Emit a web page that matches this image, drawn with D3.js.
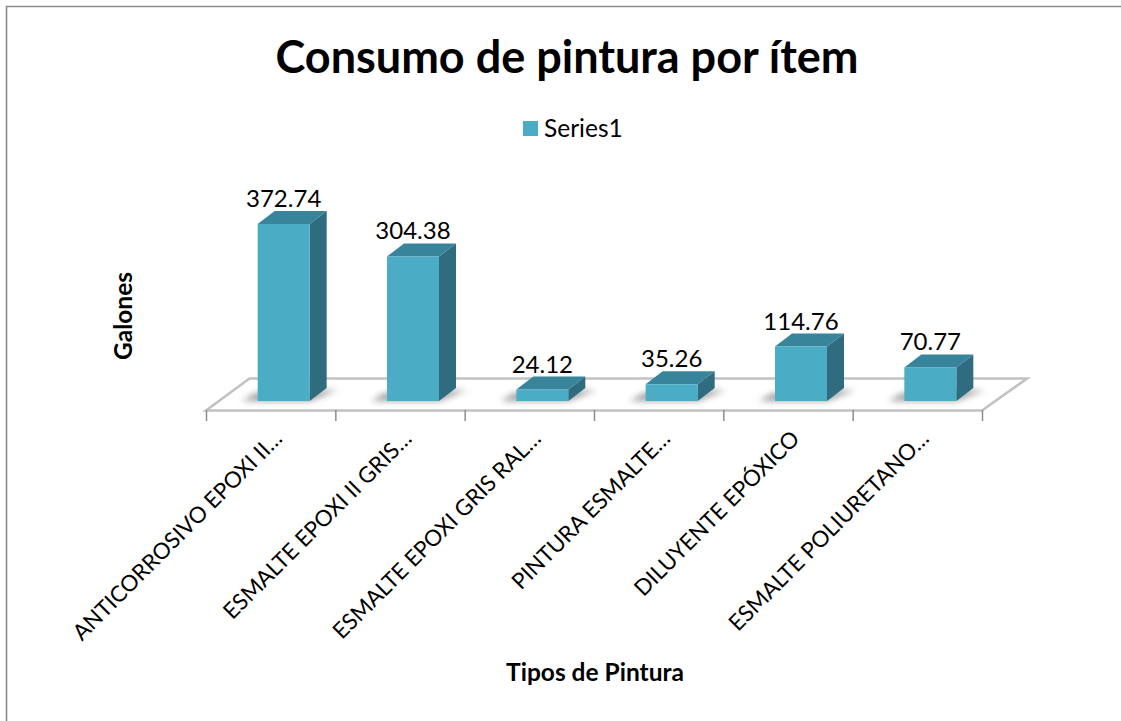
<!DOCTYPE html>
<html>
	<head>
		<title>Consumo de pintura</title>
		<script src="https://d3js.org/d3.v7.min.js"></script>
		<style>
			html, body { margin: 0; padding: 0; background: #fff; }
			svg { display: block; }
			text { font-family: Lato, "Open Sans", sans-serif; fill: #000; }
		</style>
	</head>
	<body>
		<svg width="1121" height="721"></svg>

		<script type="text/javascript">
			var categories = [
				"ANTICORROSIVO EPOXI II…",
				"ESMALTE EPOXI II GRIS…",
				"ESMALTE EPOXI GRIS RAL…",
				"PINTURA ESMALTE…",
				"DILUYENTE EPÓXICO",
				"ESMALTE POLIURETANO…"
			];
			var values = [372.74, 304.38, 24.12, 35.26, 114.76, 70.77];
			var labels = ["372.74", "304.38", "24.12", "35.26", "114.76", "70.77"];
			var seriesName = "Series1";

			var frontColor = "#4bacc6", sideColor = "#2f6c80", topColor = "#37849b";
			var depthX = 17, depthY = 13;

			var svg = d3.select("svg");

			// frame of the chart, only top and left show in the picture
			svg.append("path")
				.attr("d", "M6.5,721V6.5H1121")
				.attr("fill", "none")
				.attr("stroke", "#8c8c8c")
				.attr("stroke-width", 1.6);

			var x = d3.scaleBand().domain(d3.range(categories.length)).range([206, 982]).padding(0);
			var y = d3.scaleLinear().domain([0, 372.74]).range([401, 224]);
			var barW = 52;
			var barX = function(i) { return x(i) + x.bandwidth() / 2 + 13 - barW / 2; };

			var defs = svg.append("defs");
			defs.append("filter").attr("id", "blur")
				.attr("x", "-30%").attr("y", "-60%").attr("width", "160%").attr("height", "220%")
				.append("feGaussianBlur").attr("stdDeviation", 3);

			// floor
			svg.append("path")
				.attr("d", "M206,410.5L249.5,378.5H1027L982,410.5Z")
				.attr("fill", "#fff")
				.attr("stroke", "#c2c2c2")
				.attr("stroke-width", 2.6);

			// ticks on the front of the floor
			var tickScale = d3.scaleLinear().domain([0, categories.length]).range([206, 982]);
			var axis = d3.axisBottom(tickScale)
				.tickValues(d3.range(categories.length + 1))
				.tickFormat("")
				.tickSize(11);
			svg.append("g")
				.attr("transform", "translate(0,410)")
				.call(axis)
				.call(function(g) { g.select(".domain").remove(); })
				.selectAll("line").attr("stroke", "#8c8c8c").attr("stroke-width", 1.5);

			var bars = svg.selectAll("g.bar")
				.data(values)
				.enter()
				.append("g")
				.attr("class", "bar");

			// shadow on the floor
			bars.append("path")
				.attr("d", function(d, i) {
					var l = barX(i), r = l + barW;
					return "M" + (l - 16) + "," + y(0) + "L" + (l - 2) + "," + (y(0) - 8) +
						"L" + (r + 28) + "," + (y(0) - 11) + "L" + r + "," + y(0) + "Z";
				})
				.attr("fill", "#8e8e8e")
				.attr("opacity", 0.85)
				.attr("filter", "url(#blur)");

			bars.append("path")
				.attr("d", function(d, i) {
					var l = barX(i), r = l + barW, t = y(d);
					return "M" + r + "," + t + "l" + depthX + "," + (-depthY) + "V" + (y(0) - depthY) + "l" + (-depthX) + "," + depthY + "Z";
				})
				.attr("fill", sideColor);

			bars.append("path")
				.attr("d", function(d, i) {
					var l = barX(i), t = y(d);
					return "M" + l + "," + t + "l" + depthX + "," + (-depthY) + "h" + barW + "l" + (-depthX) + "," + depthY + "Z";
				})
				.attr("fill", topColor);

			bars.append("rect")
				.attr("x", function(d, i) { return barX(i); })
				.attr("y", function(d) { return y(d); })
				.attr("width", barW)
				.attr("height", function(d) { return y(0) - y(d); })
				.attr("fill", frontColor);

			bars.append("text")
				.attr("x", function(d, i) { return barX(i) + barW / 2; })
				.attr("y", function(d) { return y(d) - 17; })
				.attr("text-anchor", "middle")
				.attr("font-size", 24)
				.text(function(d, i) { return labels[i]; });

			// category labels, 45 degrees, ending under each band
			svg.selectAll("text.cat")
				.data(categories)
				.enter()
				.append("text")
				.attr("class", "cat")
				.attr("text-anchor", "end")
				.attr("font-size", 22.3)
				.attr("transform", function(d, i) {
					return "translate(" + (x(i) + x.bandwidth() / 2 + 13) + ",440) rotate(-45)";
				})
				.text(function(d) { return d; });

			svg.append("text")
				.attr("x", 567).attr("y", 73)
				.attr("text-anchor", "middle")
				.attr("font-size", 45)
				.attr("font-weight", "bold")
				.text("Consumo de pintura por ítem");

			svg.append("rect")
				.attr("x", 523).attr("y", 121)
				.attr("width", 15).attr("height", 15)
				.attr("fill", frontColor);
			svg.append("text")
				.attr("x", 544).attr("y", 137)
				.attr("font-size", 24.5)
				.text(seriesName);

			svg.append("text")
				.attr("transform", "translate(132,316) rotate(-90)")
				.attr("text-anchor", "middle")
				.attr("font-size", 24.5)
				.attr("font-weight", "bold")
				.text("Galones");

			svg.append("text")
				.attr("x", 595).attr("y", 681)
				.attr("text-anchor", "middle")
				.attr("font-size", 24.5)
				.attr("font-weight", "bold")
				.text("Tipos de Pintura");
		</script>
	</body>
</html>
